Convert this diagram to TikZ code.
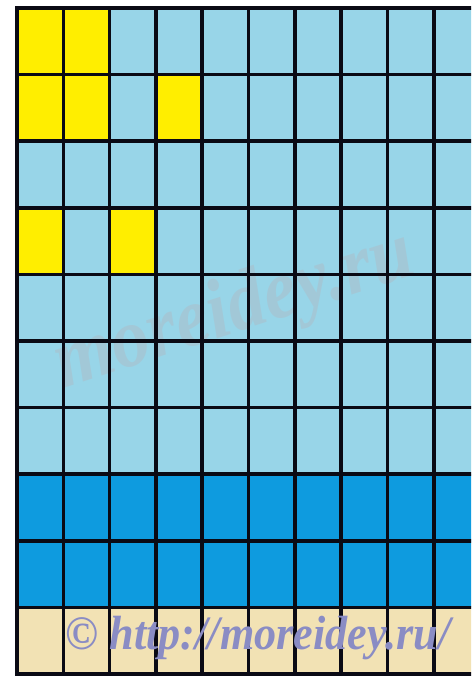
\documentclass[tikz,border=0pt]{standalone}
\usepackage{fontspec}
\setmainfont{Liberation Serif}
\definecolor{yel}{HTML}{FFEE00}
\definecolor{lblue}{HTML}{98D5E8}
\definecolor{dblue}{HTML}{0E9BDF}
\definecolor{beige}{HTML}{F2E2B4}
\definecolor{gridc}{HTML}{0A0A14}
\definecolor{wmark}{HTML}{8A8CC4}
\tikzset{
  gridline/.style={draw=gridc, line width=3.6pt},
}
\begin{document}
\begin{tikzpicture}[x=1pt,y=-1pt]
\useasboundingbox (0,0) rectangle (471,676);
\fill[white] (0,0) rectangle (471,676);
\begin{scope}
\clip (0,0) rectangle (471,676);
\pgfmathsetmacro{\dx}{46.3}
\pgfmathsetmacro{\dy}{66.6}
% base colours per row
\foreach \r in {0,...,9}{
  \ifnum\r<7 \def\rc{lblue}\else\ifnum\r<9 \def\rc{dblue}\else\def\rc{beige}\fi\fi
  \fill[\rc] (17,{8+\r*\dy}) rectangle (490,{8+(\r+1)*\dy});
}
% yellow cells
\foreach \c/\r in {0/0,1/0,0/1,1/1,3/1,0/3,2/3}{
  \fill[yel] ({17+\c*\dx},{8+\r*\dy}) rectangle ({17+(\c+1)*\dx},{8+(\r+1)*\dy});
}
% watermark
\node[rotate=18, text=gray!70!red!60, opacity=0.22, xscale=0.9, font=\fontsize{84}{84}\selectfont\bfseries\itshape] (wm) at (235,312) {moreidey.ru};
% grid lines
\foreach \c in {0,...,10}{
  \draw[gridline] ({17+\c*\dx},6.2) -- ({17+\c*\dx},676);
}
\foreach \r in {0,...,10}{
  \draw[gridline] (15.2,{8+\r*\dy}) -- (490,{8+\r*\dy});
}
\node[text=wmark, xscale=0.92, font=\fontsize{48}{48}\selectfont\bfseries\itshape, anchor=center] (copy) at (258,638) {\textcopyright\ http://moreidey.ru/};
\end{scope}
\end{tikzpicture}
\end{document}
